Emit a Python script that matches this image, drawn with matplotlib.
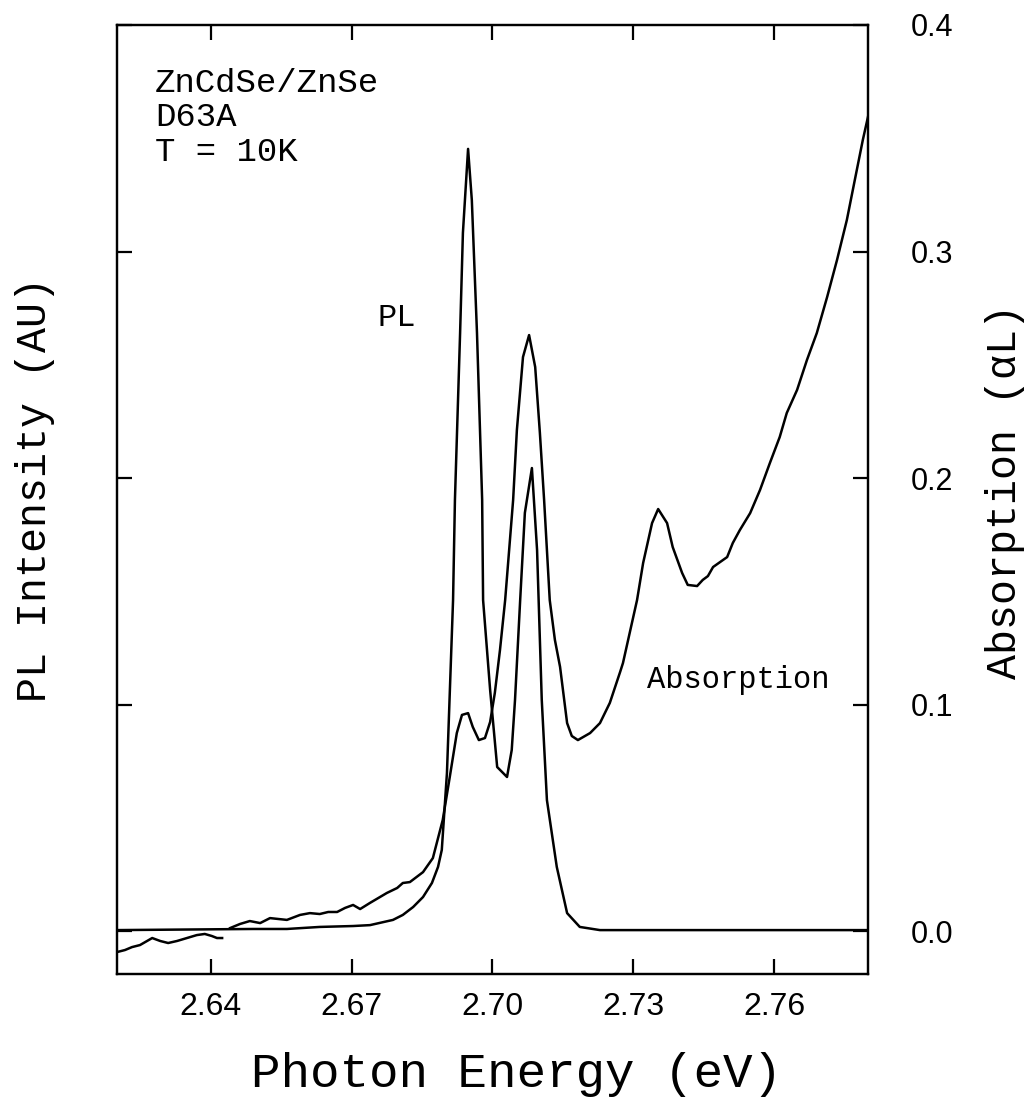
import matplotlib
matplotlib.use("Agg")
import matplotlib.pyplot as plt

# absorption, low-energy part (drops below zero)
abs_x1 = [2.6200, 2.6217, 2.6232, 2.6249, 2.6275, 2.6292, 2.6309, 2.6328,
          2.6349, 2.6370, 2.6387, 2.6402, 2.6413, 2.6424]
abs_y1 = [-0.0093, -0.0084, -0.0071, -0.0062, -0.0031, -0.0044, -0.0053, -0.0044,
          -0.0031, -0.0018, -0.0013, -0.0022, -0.0031, -0.0031]

# absorption, main part
abs_x2 = [2.6441, 2.6462, 2.6483, 2.6505, 2.6526, 2.6562, 2.6590, 2.6611,
          2.6632, 2.6650, 2.6669, 2.6686, 2.6703, 2.6718, 2.6739, 2.6775,
          2.6797, 2.6809, 2.6824, 2.6852, 2.6873, 2.6894, 2.6909, 2.6924,
          2.6935, 2.6948, 2.6958, 2.6971, 2.6984, 2.6995, 2.7005, 2.7016,
          2.7027, 2.7044, 2.7052, 2.7065, 2.7078, 2.7091, 2.7101, 2.7110,
          2.7122, 2.7133, 2.7144, 2.7159, 2.7169, 2.7182, 2.7208, 2.7229,
          2.7250, 2.7272, 2.7278, 2.7308, 2.7321, 2.7340, 2.7353, 2.7372,
          2.7384, 2.7404, 2.7416, 2.7436, 2.7448, 2.7459, 2.7470, 2.7500,
          2.7512, 2.7527, 2.7549, 2.7570, 2.7591, 2.7612, 2.7627, 2.7649,
          2.7670, 2.7691, 2.7713, 2.7734, 2.7755, 2.7772, 2.7789, 2.7800]
abs_y2 = [0.0013, 0.0031, 0.0044, 0.0035, 0.0057, 0.0049, 0.0071, 0.0079,
          0.0075, 0.0084, 0.0084, 0.0102, 0.0115, 0.0097, 0.0124, 0.0168,
          0.0190, 0.0212, 0.0216, 0.0260, 0.0322, 0.0490, 0.0680, 0.0874,
          0.0954, 0.0962, 0.0901, 0.0843, 0.0852, 0.0923, 0.1051, 0.1241,
          0.1461, 0.1903, 0.2212, 0.2534, 0.2631, 0.2490, 0.2199, 0.1903,
          0.1461, 0.1285, 0.1166, 0.0918, 0.0861, 0.0843, 0.0874, 0.0918,
          0.1007, 0.1144, 0.1183, 0.1461, 0.1625, 0.1801, 0.1863, 0.1801,
          0.1695, 0.1581, 0.1528, 0.1523, 0.1550, 0.1567, 0.1607, 0.1651,
          0.1713, 0.1770, 0.1845, 0.1947, 0.2066, 0.2181, 0.2287, 0.2389,
          0.2521, 0.2640, 0.2799, 0.2962, 0.3139, 0.3316, 0.3492, 0.3594]

# photoluminescence (arbitrary units, drawn on the same scale)
pl_x = [2.6200, 2.6490, 2.6562, 2.6632, 2.6703, 2.6739, 2.6788, 2.6809,
        2.6831, 2.6852, 2.6871, 2.6884, 2.6892, 2.6903, 2.6916, 2.6920,
        2.6931, 2.6937, 2.6948, 2.6956, 2.6967, 2.6978, 2.6980, 2.6995,
        2.7010, 2.7031, 2.7041, 2.7048, 2.7059, 2.7069, 2.7084, 2.7095,
        2.7105, 2.7116, 2.7137, 2.7159, 2.7186, 2.7229, 2.7800]
pl_y = [0.0004, 0.0009, 0.0009, 0.0018, 0.0022, 0.0026, 0.0049, 0.0071,
        0.0106, 0.0150, 0.0212, 0.0283, 0.0358, 0.0698, 0.1461, 0.1903,
        0.2640, 0.3082, 0.3453, 0.3227, 0.2640, 0.1903, 0.1461, 0.1064,
        0.0724, 0.0680, 0.0799, 0.1020, 0.1461, 0.1846, 0.2044, 0.1682,
        0.1020, 0.0578, 0.0283, 0.0079, 0.0018, 0.0004, 0.0004]

x_ticks = [2.64, 2.67, 2.70, 2.73, 2.76]
x_ticklabels = ["2.64", "2.67", "2.70", "2.73", "2.76"]
y_ticks = [0.0, 0.1, 0.2, 0.3, 0.4]
y_ticklabels = ["0.0", "0.1", "0.2", "0.3", "0.4"]

mono = ["Liberation Mono", "DejaVu Sans Mono"]
sans = "Liberation Sans"

fig = plt.figure(figsize=(10.29, 11.16), dpi=100)
ax = fig.add_axes([0.1137, 0.1272, 0.7298, 0.8504])
ax2 = ax.twinx()

ax.plot(pl_x, pl_y, color="black", linewidth=1.8)
ax2.plot(abs_x1, abs_y1, color="black", linewidth=1.8)
ax2.plot(abs_x2, abs_y2, color="black", linewidth=1.8)

for a in (ax, ax2):
    a.set_xlim(2.62, 2.78)
    a.set_ylim(-0.019, 0.4)
    a.set_yticks(y_ticks)
    for s in a.spines.values():
        s.set_linewidth(1.6)

ax.set_xticks(x_ticks)
ax.set_xticklabels(x_ticklabels, fontfamily=sans, fontsize=23)
ax.tick_params(axis="x", direction="in", length=11, width=1.6,
               top=True, labeltop=False, pad=13)
ax.tick_params(axis="y", direction="in", length=11, width=1.6,
               left=True, labelleft=False)

ax2.set_yticklabels(y_ticklabels, fontfamily=sans, fontsize=22)
ax2.tick_params(axis="y", direction="in", length=11, width=1.6, pad=31)

ax.text(0.0506, 0.955, "ZnCdSe/ZnSe\nD63A\nT = 10K", transform=ax.transAxes,
        ha="left", va="top", fontsize=24.5, family=mono, linespacing=1.15)
ax.text(0.373, 0.691, "PL", transform=ax.transAxes,
        ha="center", va="center", fontsize=23, family=mono)
ax.text(0.706, 0.310, "Absorption", transform=ax.transAxes,
        ha="left", va="center", fontsize=22, family=mono)

fig.text(0.034, 0.561, "PL Intensity (AU)", rotation=90, ha="center",
         va="center", fontsize=30, family=mono)
fig.text(0.977, 0.56, "Absorption (\u03b1L)", rotation=90, ha="center",
         va="center", fontsize=30, family=mono)
fig.text(0.502, 0.037, "Photon Energy (eV)", ha="center", va="center",
         fontsize=35.5, family=mono)

fig.savefig("out.png", dpi=100)
